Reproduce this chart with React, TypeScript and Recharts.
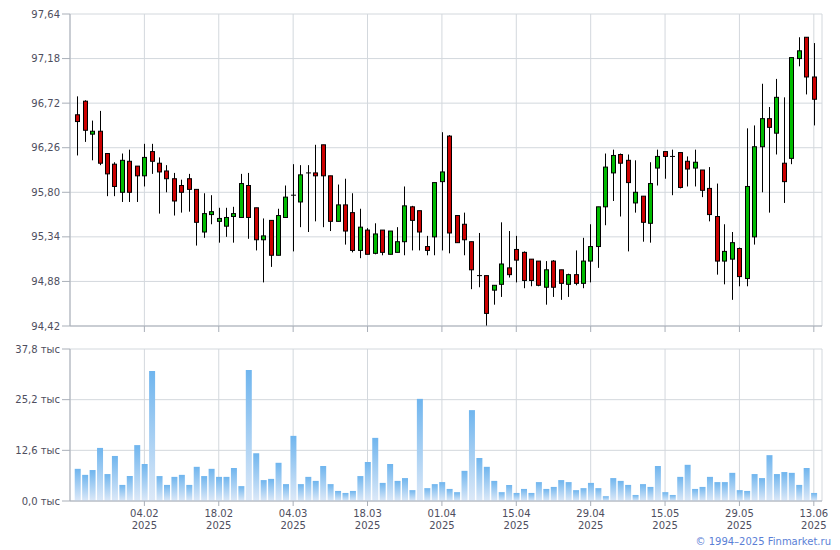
import React from "react"
import { ComposedChart, Bar, XAxis, YAxis, CartesianGrid } from "recharts"

const dates = [
  "22.01", "23.01", "24.01", "27.01", "28.01", "29.01", "30.01", "31.01", "03.02", "04.02",
  "05.02", "06.02", "07.02", "10.02", "11.02", "12.02", "13.02", "14.02", "17.02", "18.02",
  "19.02", "20.02", "21.02", "24.02", "25.02", "26.02", "27.02", "28.02", "03.03", "04.03",
  "05.03", "06.03", "07.03", "10.03", "11.03", "12.03", "13.03", "14.03", "17.03", "18.03",
  "19.03", "20.03", "21.03", "24.03", "25.03", "26.03", "27.03", "28.03", "31.03", "01.04",
  "02.04", "03.04", "04.04", "07.04", "08.04", "09.04", "10.04", "11.04", "14.04", "15.04",
  "16.04", "17.04", "18.04", "21.04", "22.04", "23.04", "24.04", "25.04", "28.04", "29.04",
  "30.04", "02.05", "05.05", "06.05", "07.05", "08.05", "12.05", "13.05", "14.05", "15.05",
  "16.05", "19.05", "20.05", "21.05", "22.05", "23.05", "26.05", "27.05", "28.05", "29.05",
  "30.05", "02.06", "03.06", "04.06", "05.06", "06.06", "09.06", "10.06", "11.06", "13.06",
]

const open = [
  96.6, 96.74, 96.4, 96.43, 96.2, 96.09, 95.8, 96.12, 96.07, 95.97,
  96.22, 96.1, 96.02, 95.94, 95.87, 95.94, 95.83, 95.39, 95.57, 95.5,
  95.45, 95.55, 95.54, 95.87, 95.64, 95.31, 95.51, 95.15, 95.54, 95.76,
  95.7, 96.0, 96.0, 96.29, 95.97, 95.5, 95.67, 95.59, 95.2, 95.41,
  95.17, 95.41, 95.16, 95.18, 95.29, 95.65, 95.61, 95.24, 95.34, 95.91,
  96.38, 95.56, 95.47, 95.29, 94.94, 94.94, 94.79, 94.85, 95.02, 95.21,
  95.18, 95.11, 95.09, 94.82, 95.09, 95.0, 94.85, 94.95, 94.86, 95.09,
  95.24, 95.65, 96.0, 96.19, 96.13, 95.69, 95.76, 95.48, 96.05, 96.22,
  96.17, 96.21, 96.12, 96.05, 96.03, 95.84, 95.55, 95.09, 95.11, 95.22,
  94.91, 95.34, 96.27, 96.56, 96.41, 96.1, 96.15, 97.18, 97.4, 96.99,
]

const high = [
  96.79, 96.75, 96.54, 96.64, 96.2, 96.11, 96.2, 96.24, 96.07, 96.3,
  96.3, 96.16, 96.08, 96.0, 95.93, 95.99, 95.83, 95.79, 95.77, 95.64,
  95.64, 95.65, 95.99, 96.0, 95.64, 95.53, 95.51, 95.63, 95.87, 96.09,
  96.08, 96.08, 96.29, 96.29, 95.97, 95.88, 95.94, 95.79, 95.63, 95.43,
  95.48, 95.41, 95.4, 95.44, 95.86, 95.66, 95.61, 95.35, 95.9, 96.42,
  96.39, 95.56, 95.59, 95.29, 95.38, 94.94, 94.84, 95.49, 95.4, 95.35,
  95.19, 95.11, 95.09, 95.09, 95.1, 95.0, 94.96, 95.2, 95.33, 95.47,
  95.65, 96.2, 96.24, 96.2, 96.19, 96.13, 95.76, 96.11, 96.24, 96.22,
  96.24, 96.21, 96.17, 96.24, 96.03, 96.06, 95.89, 95.47, 95.39, 95.23,
  96.46, 96.49, 96.92, 96.68, 96.97, 96.78, 97.19, 97.4, 97.4, 97.34,
]

const low = [
  96.18, 96.32, 96.13, 96.08, 95.76, 95.76, 95.7, 95.7, 95.7, 95.86,
  95.99, 95.58, 95.8, 95.56, 95.59, 95.6, 95.25, 95.33, 95.47, 95.28,
  95.34, 95.28, 95.54, 95.32, 95.2, 94.87, 95.03, 95.15, 95.54, 95.19,
  95.44, 95.39, 95.5, 95.44, 95.4, 95.5, 95.26, 95.18, 95.12, 95.16,
  95.16, 95.15, 95.16, 95.18, 95.15, 95.2, 95.2, 95.15, 95.15, 95.2,
  95.17, 95.28, 95.15, 94.8, 94.82, 94.42, 94.64, 94.72, 94.92, 94.87,
  94.81, 94.83, 94.83, 94.64, 94.72, 94.69, 94.72, 94.84, 94.81, 94.87,
  95.02, 95.46, 95.71, 95.55, 95.19, 95.59, 95.29, 95.28, 95.87, 95.94,
  95.77, 95.84, 95.86, 95.86, 95.75, 95.5, 94.95, 94.85, 94.69, 94.83,
  94.83, 95.26, 95.8, 95.59, 96.19, 95.69, 96.09, 97.1, 96.81, 96.49,
]

const close = [
  96.53, 96.44, 96.43, 96.1, 95.99, 95.86, 96.13, 95.8, 95.97, 96.16,
  96.12, 96.01, 95.94, 95.71, 95.8, 95.83, 95.49, 95.58, 95.6, 95.53,
  95.54, 95.58, 95.89, 95.54, 95.31, 95.35, 95.15, 95.56, 95.75, 95.77,
  95.98, 96.0, 95.97, 95.97, 95.5, 95.67, 95.4, 95.2, 95.44, 95.16,
  95.37, 95.18, 95.4, 95.29, 95.66, 95.51, 95.39, 95.2, 95.9, 96.01,
  95.38, 95.28, 95.31, 95.0, 94.94, 94.55, 94.84, 95.06, 94.95, 95.1,
  94.89, 94.89, 94.84, 95.0, 94.82, 94.86, 94.95, 94.86, 95.09, 95.24,
  95.65, 96.06, 96.18, 96.1, 95.9, 95.8, 95.49, 95.89, 96.17, 96.17,
  96.17, 95.85, 96.04, 96.11, 95.82, 95.57, 95.09, 95.19, 95.28, 94.93,
  95.86, 96.27, 96.56, 96.47, 96.78, 95.91, 97.19, 97.26, 96.99, 96.76,
]

const volume = [
  8000, 6500, 7700, 13200, 6700, 11200, 4000, 6200, 13900, 9200,
  32300, 6200, 4000, 6000, 6500, 4000, 8500, 6200, 8000, 6000,
  6000, 8200, 3700, 32600, 11900, 5200, 5500, 9500, 4200, 16200,
  4200, 6000, 5000, 8700, 4200, 2500, 2000, 2500, 6200, 9700,
  15700, 4500, 9200, 5000, 5700, 2700, 25400, 3200, 4200, 4700,
  3000, 2200, 7500, 22600, 10700, 8500, 5000, 2200, 4000, 2000,
  3000, 2000, 4700, 3000, 3500, 5200, 4700, 2700, 3200, 4500,
  3200, 1200, 5700, 5000, 4000, 1500, 4200, 3500, 8700, 2200,
  1500, 6000, 9000, 3000, 3500, 6000, 4700, 4700, 7000, 2700,
  2500, 6700, 5700, 11400, 6700, 7200, 7000, 4000, 8200, 2000,
]

const priceTicks = [94.42, 94.88, 95.34, 95.8, 96.26, 96.72, 97.18, 97.64]
const volumeTicks = [0, 12600, 25200, 37800]
const dateTicks = [9, 19, 29, 39, 49, 59, 69, 79, 89, 99]
const year = "2025"

const data = dates.map((d, i) => ({
  i,
  date: d,
  open: open[i],
  high: high[i],
  low: low[i],
  close: close[i],
  vol: volume[i],
}))

const FONT = "'DejaVu Sans', Verdana, sans-serif"
const TEXT = "#4e4e5e"
const GRID = "#d3d8dd"
const AXIS = "#a9afb8"
const X_DOMAIN: [number, number] = [-1, 100.1]

function Candle(props: any) {
  const { x, y, width, height, payload } = props
  if (payload == null) return null
  const top = Math.min(y, y + height)
  const bot = Math.max(y, y + height)
  const span = payload.high - payload.low
  const toY = (p: number) => (span > 0 ? top + ((payload.high - p) / span) * (bot - top) : top)
  const cx = Math.round(x + width / 2) + 0.5
  const yo = toY(payload.open)
  const yc = toY(payload.close)
  const bTop = Math.min(yo, yc)
  const bH = Math.abs(yo - yc)
  const up = payload.close >= payload.open
  return (
    <g>
      <line x1={cx} x2={cx} y1={top} y2={bot} stroke="#000" strokeWidth={1} />
      {bH < 1 ? (
        <line x1={cx - 2.5} x2={cx + 2.5} y1={bTop} y2={bTop} stroke="#000" strokeWidth={1} />
      ) : (
        <rect
          x={cx - 2}
          y={bTop}
          width={4}
          height={bH}
          fill={up ? "#00bb00" : "#cc0000"}
          stroke="#000"
          strokeWidth={1}
        />
      )}
    </g>
  )
}

function DateTick(props: any) {
  const { x, y, payload } = props
  return (
    <g>
      <text x={x} y={y} dy={9} textAnchor="middle" fill={TEXT} fontSize={10} fontFamily={FONT}>
        {dates[payload.value]}
      </text>
      <text x={x} y={y} dy={21} textAnchor="middle" fill={TEXT} fontSize={10} fontFamily={FONT}>
        {year}
      </text>
    </g>
  )
}

const fmtPrice = (v: number) => v.toFixed(2).replace(".", ",")
const fmtVol = (v: number) => (v / 1000).toFixed(1).replace(".", ",") + " тыс"

export default function App() {
  const tickStyle = { fill: TEXT, fontSize: 10, fontFamily: FONT }
  return (
    <div style={{ position: "absolute", left: 0, top: 0, width: 840, height: 550, background: "#fff" }}>
      <div style={{ position: "absolute", left: 0, top: 0 }}>
        <ComposedChart width={840} height={340} data={data} margin={{ top: 14, right: 18, bottom: 0, left: 0 }}>
          <CartesianGrid stroke={GRID} />
          <XAxis
            type="number"
            dataKey="i"
            domain={X_DOMAIN}
            ticks={dateTicks}
            height={14}
            stroke={AXIS}
            tickSize={6}
            tick={() => <g />}
            allowDataOverflow
          />
          <YAxis
            domain={[94.42, 97.64]}
            ticks={priceTicks}
            width={70}
            stroke={AXIS}
            tickSize={8}
            tickMargin={2}
            tick={tickStyle}
            tickFormatter={fmtPrice}
            allowDataOverflow
          />
          <Bar
            dataKey={(d: any) => [d.low, d.high]}
            shape={Candle}
            barSize={5}
            isAnimationActive={false}
          />
        </ComposedChart>
      </div>
      <div style={{ position: "absolute", left: 0, top: 335 }}>
        <ComposedChart width={840} height={215} data={data} margin={{ top: 14, right: 18, bottom: 0, left: 0 }}>
          <defs>
            <linearGradient id="volGrad" x1="0" y1="0" x2="0" y2="1">
              <stop offset="0%" stopColor="#6fb5ee" />
              <stop offset="100%" stopColor="#dde9f8" />
            </linearGradient>
          </defs>
          <CartesianGrid stroke={GRID} />
          <XAxis
            type="number"
            dataKey="i"
            domain={X_DOMAIN}
            ticks={dateTicks}
            height={49}
            stroke={AXIS}
            tickSize={5}
            tick={DateTick}
            allowDataOverflow
          />
          <YAxis
            domain={[0, 37800]}
            ticks={volumeTicks}
            width={70}
            stroke={AXIS}
            tickSize={8}
            tickMargin={2}
            tick={tickStyle}
            tickFormatter={fmtVol}
            allowDataOverflow
          />
          <Bar dataKey="vol" fill="url(#volGrad)" barSize={6} isAnimationActive={false} />
        </ComposedChart>
      </div>
      <div
        style={{
          position: "absolute",
          right: 9,
          top: 536,
          fontSize: 10,
          fontFamily: FONT,
          color: "#5b7fd6",
          whiteSpace: "nowrap",
        }}
      >
        © 1994–2025 Finmarket.ru
      </div>
    </div>
  )
}
